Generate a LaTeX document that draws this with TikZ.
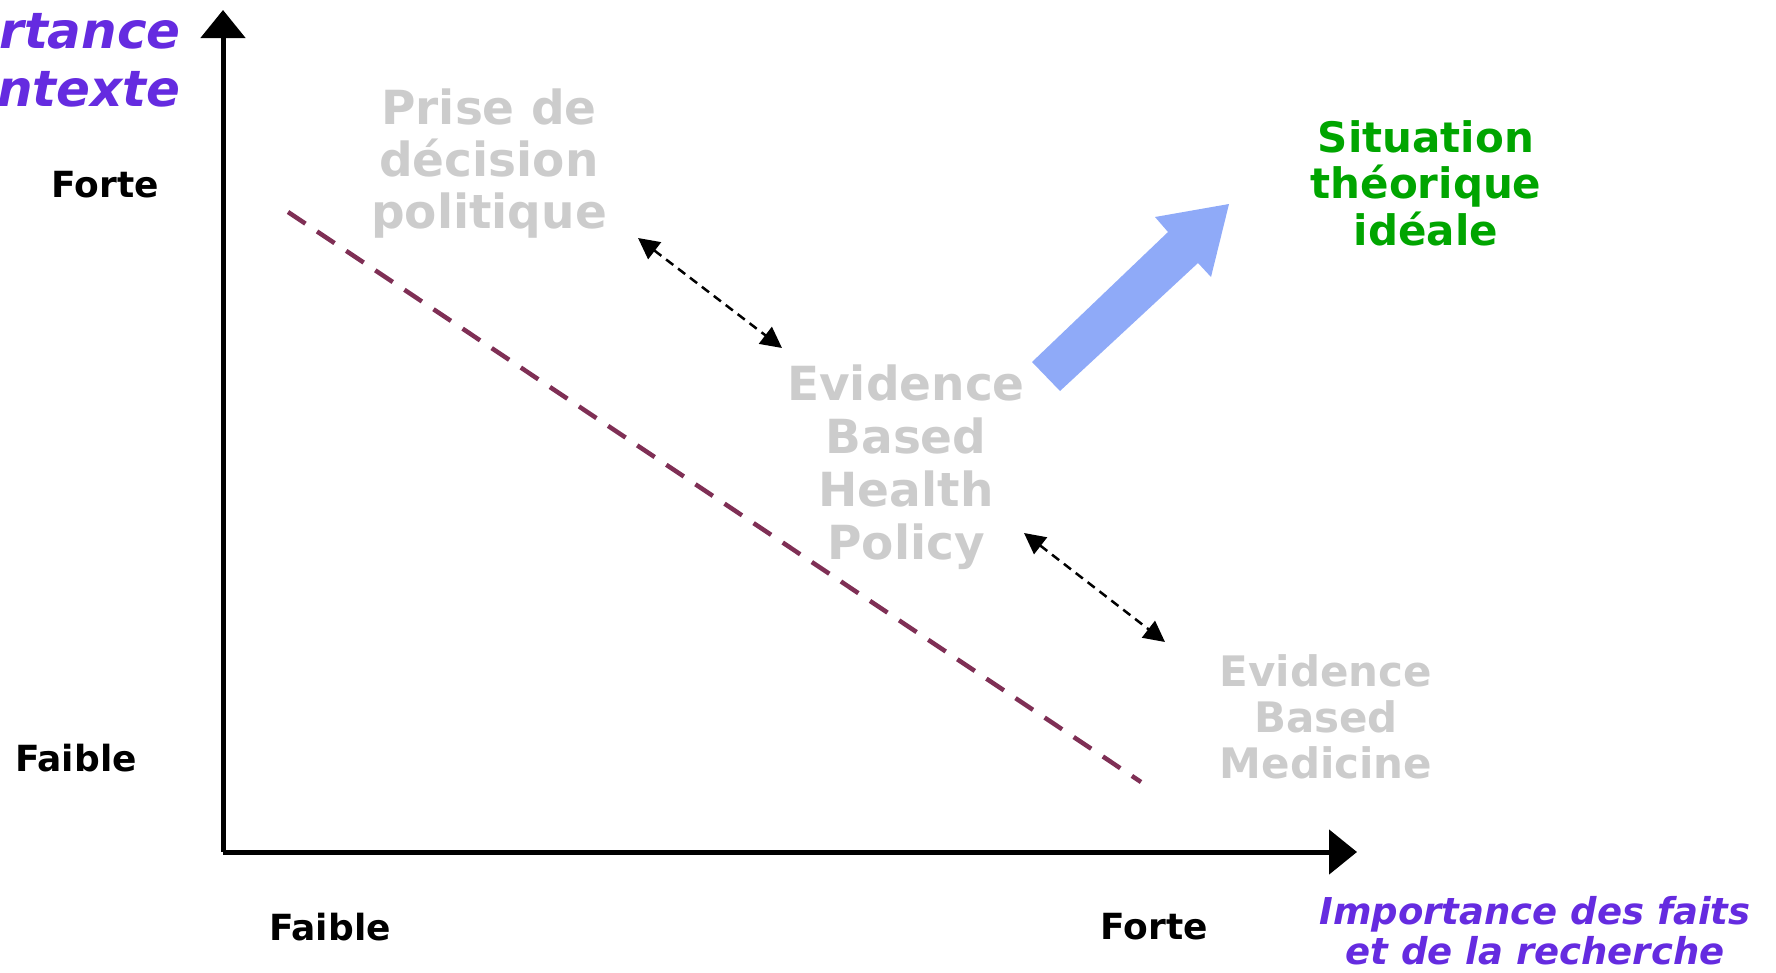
\documentclass[tikz,border=0pt]{standalone}
\usepackage{fontspec}
\setmainfont{DejaVu Sans}
\usetikzlibrary{arrows.meta}
\definecolor{axisviolet}{RGB}{101,43,224}
\definecolor{faded}{RGB}{204,204,204}
\definecolor{idealgreen}{RGB}{0,165,0}
\definecolor{arrowblue}{RGB}{143,170,248}
\definecolor{limitred}{RGB}{127,47,85}
\begin{document}
\begin{tikzpicture}[x=1pt,y=-1pt,
    axis/.style={line width=5pt,-{Triangle[length=28pt,width=44pt]}},
    link/.style={line width=2.5pt,dash pattern=on 9pt off 6pt,{Triangle[length=21pt,width=21pt]}-{Triangle[length=21pt,width=21pt]}},
    tick/.style={font=\fontsize{36}{40}\selectfont\bfseries},
    title/.style={text=axisviolet,align=center,inner sep=0pt},
    stage/.style={text=faded,align=center,inner sep=0pt}]
    \useasboundingbox (0,0) rectangle (1776,972);
    % Axes
    \coordinate (O) at (223,852);
    \coordinate (ytop) at (223,10);
    \coordinate (xend) at (1357,852);
    \draw[axis] (O) -- (ytop);
    \draw[axis] (O) -- (xend);
    % Axis labels
    \node[title,anchor=east,align=right,font=\fontsize{50}{58}\selectfont\bfseries\itshape] (ylabel) at (181,60) {Importance\\du contexte};
    \node[title,font=\fontsize{37}{40}\selectfont\bfseries\itshape] (xlabel) at (1535,931) {Importance des faits\\et de la recherche};
    \node[tick] (yhigh) at (105,185) {Forte};
    \node[tick] (ylow) at (76,758) {Faible};
    \node[tick] (xlow) at (330,927) {Faible};
    \node[tick] (xhigh) at (1154,927) {Forte};
    % Limit
    \coordinate (limA) at (288,212);
    \coordinate (limB) at (1141,782);
    \draw[limitred,line width=4.5pt,dash pattern=on 21pt off 14pt] (limA) -- (limB);
    % Stages
    \node[stage,font=\fontsize{47}{52}\selectfont\bfseries] (politique) at (489,164) {Prise de\\décision\\politique};
    \node[stage,font=\fontsize{47}{53}\selectfont\bfseries] (ebhp) at (906,467) {Evidence\\Based\\Health\\Policy};
    \node[stage,font=\fontsize{42}{46}\selectfont\bfseries] (ebm) at (1326,717) {Evidence\\Based\\Medicine};
    \node[text=idealgreen,align=center,inner sep=0pt,font=\fontsize{42}{46.5}\selectfont\bfseries] (ideal) at (1426,183) {Situation\\théorique\\idéale};
    % Links
    \coordinate (linkA1) at (638,238);
    \coordinate (linkA2) at (782,348);
    \coordinate (linkB1) at (1024,533);
    \coordinate (linkB2) at (1165,642);
    \draw[link] (linkA1) -- (linkA2);
    \draw[link] (linkB1) -- (linkB2);
    % Progress arrow
    \fill[arrowblue] (1032,362) -- (1168,232) -- (1155,217) -- (1229,204) -- (1211,277) -- (1198,263) -- (1060,391) -- cycle;
\end{tikzpicture}
\end{document}
